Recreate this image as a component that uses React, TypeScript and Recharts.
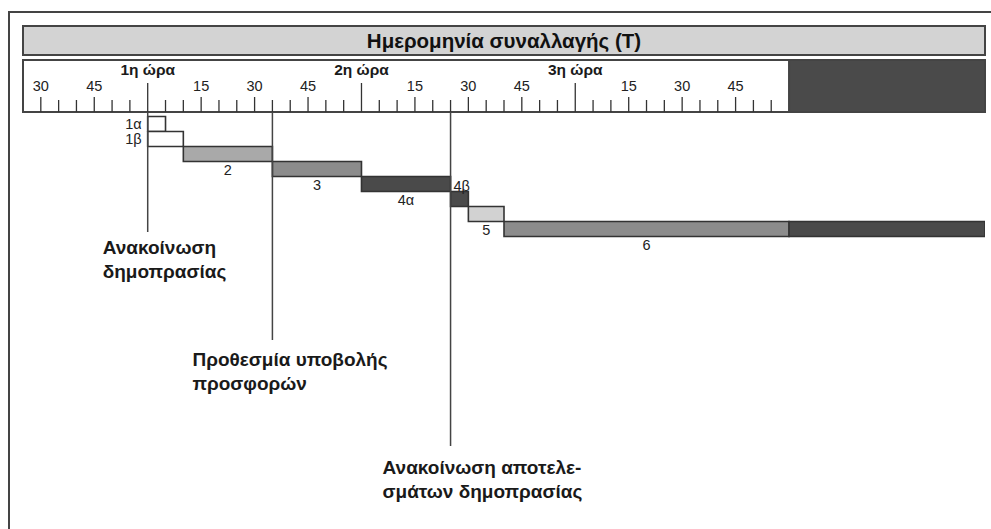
import React from 'react';
import { ComposedChart, Bar, XAxis, YAxis, ReferenceArea, ReferenceLine, Cell, LabelList } from 'recharts';

// ---- data ----
const rowNames = ['1α', '1β', '2', '3', '4α', '4β', '5', '6'];
const startMin = [0, 0, 10, 35, 60, 85, 90, 100];
const endMin = [5, 10, 35, 60, 85, 90, 100, 180];
const extensionEnd = [null, null, null, null, null, null, null, 235];
const rowFills = ['#ffffff', '#ffffff', '#a9a9a9', '#8c8c8c', '#4a4a4a', '#4a4a4a', '#d2d2d2', '#8c8c8c'];

const rulerTicks = [
  -30, -25, -20, -15, -10, -5, 0, 5, 10, 15, 20, 25, 30, 35, 40, 45, 50, 55,
  60, 65, 70, 75, 80, 85, 90, 95, 100, 105, 110, 115, 120, 125, 130, 135, 140,
  145, 150, 155, 160, 165, 170, 175,
];
const minuteLabelTicks = [-30, -15, 15, 30, 45, 75, 90, 105, 135, 150, 165];
const minuteLabels = ['30', '45', '15', '30', '45', '15', '30', '45', '15', '30', '45'];
const hourTicks = [0, 60, 120];
const hourLabels = ['1η ώρα', '2η ώρα', '3η ώρα'];

const axisStart = -35;
const axisEnd = 235;
const closedFrom = 180;

const milestoneMin = [0, 35, 85];
const milestoneText = [
  ['Ανακοίνωση', 'δημοπρασίας'],
  ['Προθεσμία υποβολής', 'προσφορών'],
  ['Ανακοίνωση αποτελε-', 'σμάτων δημοπρασίας'],
];
const titleText = 'Ημερομηνία συναλλαγής (T)';

// ---- layout/style (not data) ----
const FONT = '"Liberation Sans", Arial, Helvetica, sans-serif';
const RULER_BASE = 112;
const milestoneLineEnd = [232, 340, 446];
const milestoneTextY = [254, 366, 474];
const milestoneTextDx = [-45, -80, -68];
const labelPlacement: Record<string, string> = {
  '1α': 'left', '1β': 'left', '2': 'below', '3': 'below', '4α': 'below', '4β': 'above', '5': 'below', '6': 'below',
};

const data = rowNames.map((name, i) => ({
  name,
  offset: startMin[i],
  main: endMin[i] - startMin[i],
  ext: extensionEnd[i] == null ? 0 : (extensionEnd[i] as number) - endMin[i],
}));

const RulerTick = (props: any) => {
  const { x, payload } = props;
  const v = payload.value as number;
  const hi = hourTicks.indexOf(v);
  const li = minuteLabelTicks.indexOf(v);
  const top = hi >= 0 ? 83 : li >= 0 ? 97 : 100;
  return (
    <g>
      <line x1={x} x2={x} y1={RULER_BASE} y2={top} stroke="#333" strokeWidth={1.3} />
      {li >= 0 && (
        <text x={x} y={91} textAnchor="middle" fontFamily={FONT} fontSize={14.5} fill="#222">
          {minuteLabels[li]}
        </text>
      )}
      {hi >= 0 && (
        <text x={x} y={75} textAnchor="middle" fontFamily={FONT} fontSize={15.5} fontWeight="bold" fill="#1a1a1a">
          {hourLabels[hi]}
        </text>
      )}
    </g>
  );
};

const BarLabel = (props: any) => {
  const { x, y, width, height, index } = props;
  const name = rowNames[index];
  const place = labelPlacement[name];
  const common = { fontFamily: FONT, fontSize: 14.5, fill: '#222' } as any;
  if (place === 'left') {
    return (
      <text x={x - 6} y={y + height / 2 + 5} textAnchor="end" {...common}>{name}</text>
    );
  }
  if (place === 'above') {
    return (
      <text x={x + 3} y={y - 1} textAnchor="start" {...common}>{name}</text>
    );
  }
  return (
    <text x={x + width / 2} y={y + height + 13.5} textAnchor="middle" {...common}>{name}</text>
  );
};

const makeMilestoneShape = (i: number) => (props: any) => {
  const { x1 } = props;
  const lines = milestoneText[i];
  const tx = x1 + milestoneTextDx[i];
  const ty = milestoneTextY[i];
  return (
    <g>
      <line x1={x1} x2={x1} y1={RULER_BASE} y2={milestoneLineEnd[i]} stroke="#444" strokeWidth={1.5} />
      {lines.map((t, k) => (
        <text key={k} x={tx} y={ty + k * 24} fontFamily={FONT} fontSize={19} fontWeight="bold" fill="#1a1a1a">
          {t}
        </text>
      ))}
    </g>
  );
};

const TitleShape = (props: any) => {
  const { x, width } = props;
  return (
    <g>
      <rect x={x} y={26} width={width} height={29} fill="#d3d3d3" stroke="#444" strokeWidth={2} />
      <text x={x + width / 2} y={48} textAnchor="middle" fontFamily={FONT} fontSize={20.5} fontWeight="bold" fill="#111">
        {titleText}
      </text>
    </g>
  );
};

const RulerBoxShape = (props: any) => {
  const { x, width } = props;
  return <rect x={x} y={60} width={width} height={RULER_BASE - 60} fill="none" stroke="#444" strokeWidth={2} />;
};

const ClosedShape = (props: any) => {
  const { x, width } = props;
  return <rect x={x} y={60} width={width} height={RULER_BASE - 60} fill="#4a4a4a" stroke="#444" strokeWidth={2} />;
};

export default function App() {
  return (
    <div style={{ position: 'absolute', left: 0, top: 0, width: 991, height: 529, background: '#fff', overflow: 'hidden' }}>
      <div style={{ position: 'absolute', left: 8, top: 11, width: 1000, height: 600, borderLeft: '2px solid #444', borderTop: '2px solid #444' }} />
      <div style={{ position: 'absolute', left: 0, top: 0 }}>
        <ComposedChart
          width={991}
          height={529}
          data={data}
          layout="vertical"
          margin={{ top: 56.5, right: 6, bottom: 292.5, left: 23 }}
          barCategoryGap={0}
          barGap={0}
        >
          <XAxis
            type="number"
            orientation="top"
            domain={[axisStart, axisEnd]}
            ticks={rulerTicks}
            interval={0}
            tick={<RulerTick />}
            tickLine={false}
            axisLine={false}
            height={60}
            allowDataOverflow
          />
          <YAxis type="category" dataKey="name" hide />
          <ReferenceArea x1={axisStart} x2={axisEnd} ifOverflow="visible" shape={TitleShape} />
          <ReferenceArea x1={closedFrom} x2={axisEnd} ifOverflow="visible" shape={ClosedShape} />
          <ReferenceArea x1={axisStart} x2={axisEnd} ifOverflow="visible" shape={RulerBoxShape} />
          {milestoneMin.map((m, i) => (
            <ReferenceLine key={i} x={m} ifOverflow="visible" shape={makeMilestoneShape(i)} />
          ))}
          <Bar dataKey="offset" stackId="s" fill="transparent" isAnimationActive={false} />
          <Bar dataKey="main" stackId="s" stroke="#333" strokeWidth={1.6} isAnimationActive={false}>
            {data.map((d, i) => (
              <Cell key={d.name} fill={rowFills[i]} />
            ))}
            <LabelList dataKey="name" content={<BarLabel />} />
          </Bar>
          <Bar dataKey="ext" stackId="s" fill="#4a4a4a" stroke="#333" strokeWidth={1.6} isAnimationActive={false} />
        </ComposedChart>
      </div>
    </div>
  );
}
